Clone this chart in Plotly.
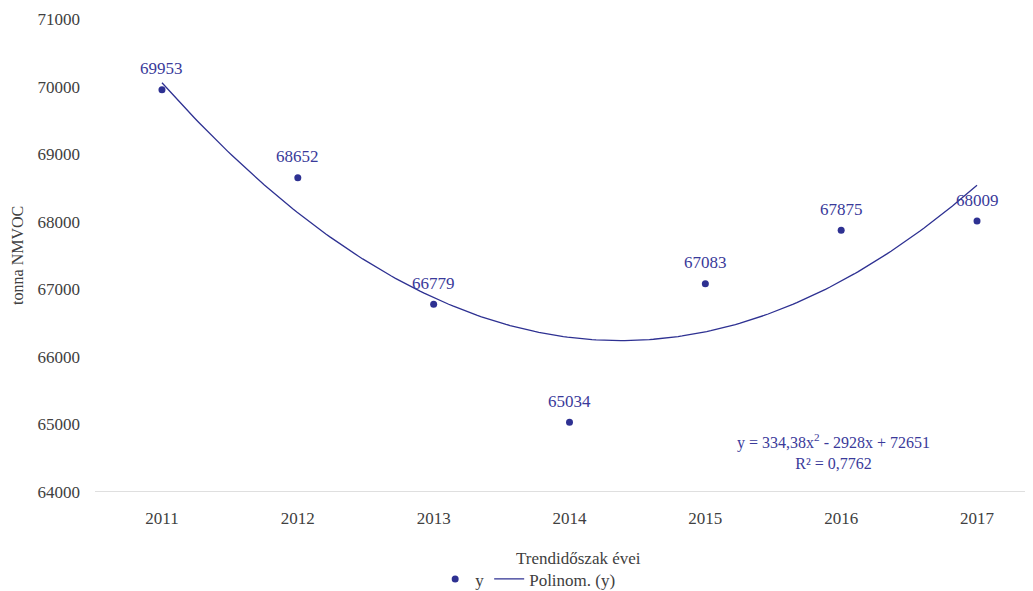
import numpy as np
import plotly.graph_objects as go

years = [2011, 2012, 2013, 2014, 2015, 2016, 2017]
values = [69953, 68652, 66779, 65034, 67083, 67875, 68009]
y_ticks = [64000, 65000, 66000, 67000, 68000, 69000, 70000, 71000]

DOT = "#2E3192"
LABEL = "#3A3A9A"
GREY = "#404040"
FONT = "Liberation Serif, Times New Roman, serif"

# másodfokú polinom trend (x = 1..7), mint az Excel trendvonal
idx = np.arange(1, len(years) + 1)
coef = np.polyfit(idx, values, 2)
xs = np.linspace(1, len(years), 200)
trend = np.polyval(coef, xs)
fit_at = np.polyval(coef, idx)
r2 = 1 - np.sum((np.array(values) - fit_at) ** 2) / np.sum((np.array(values) - np.mean(values)) ** 2)

fig = go.Figure()

fig.add_trace(
    go.Scatter(
        x=years,
        y=values,
        mode="markers",
        name="y",
        marker=dict(color=DOT, size=7),
        cliponaxis=False,
    )
)

fig.add_trace(
    go.Scatter(
        x=xs + years[0] - 1,
        y=trend,
        mode="lines",
        name="Polinom. (y)",
        line=dict(color=DOT, width=1.3),
    )
)

# adatcímkék a pontok fölött
for yr, v in zip(years, values):
    fig.add_annotation(
        x=yr, y=v, xref="x", yref="y", text=str(v), showarrow=False,
        yshift=21, font=dict(color=LABEL, size=17, family=FONT),
    )

a, b, c = coef
eq = (f"y = {a:.2f}".replace(".", ",") + "x<sup>2</sup> - "
      + f"{-b:.0f}x + {c:.0f}<br>R² = " + f"{r2:.4f}".replace(".", ","))
fig.add_annotation(
    x=2015.94, y=64600, xref="x", yref="y",
    text=eq, showarrow=False, align="center",
    font=dict(color=LABEL, size=16, family=FONT),
)

# tengelycímek
fig.add_annotation(
    x=0.5166, y=-0.14, xref="paper", yref="paper",
    xanchor="center", yanchor="middle",
    text="Trendidőszak évei", showarrow=False,
    font=dict(size=17, color=GREY, family=FONT),
)
fig.add_annotation(
    x=-0.083, y=0.5, xref="paper", yref="paper",
    xanchor="center", yanchor="middle",
    text="tonna NMVOC", showarrow=False, textangle=-90,
    font=dict(size=16, color=GREY, family=FONT),
)

fig.update_layout(
    width=1025, height=583,
    margin=dict(l=87, r=3, t=11, b=99),
    paper_bgcolor="white",
    plot_bgcolor="white",
    font=dict(family=FONT, size=17, color=GREY),
    showlegend=True,
    legend=dict(
        orientation="h", x=0.507, xanchor="center",
        y=0.02, yanchor="middle", xref="container", yref="container",
        font=dict(size=17, color=GREY, family=FONT),
        itemwidth=30,
    ),
)

fig.update_xaxes(
    range=[2010.507, 2017.39],
    tickvals=years,
    ticktext=[str(y) for y in years],
    showgrid=False,
    zeroline=False,
    showline=False,
    ticks="",
    automargin=False,
    ticklabelstandoff=14,
    tickfont=dict(size=17, color=GREY, family=FONT),
)

fig.update_yaxes(
    range=[64000, 71000],
    tickvals=y_ticks,
    ticktext=[str(v) for v in y_ticks],
    showgrid=False,
    zeroline=False,
    showline=False,
    ticks="",
    automargin=False,
    ticklabelstandoff=14,
    tickfont=dict(size=17, color=GREY, family=FONT),
)

# alsó alapvonal 64000-nél
fig.add_shape(
    type="line", xref="paper", yref="y", x0=0, x1=1, y0=64000, y1=64000,
    line=dict(color="#BFBFBF", width=1), layer="below",
)

fig.write_html("out.html")
